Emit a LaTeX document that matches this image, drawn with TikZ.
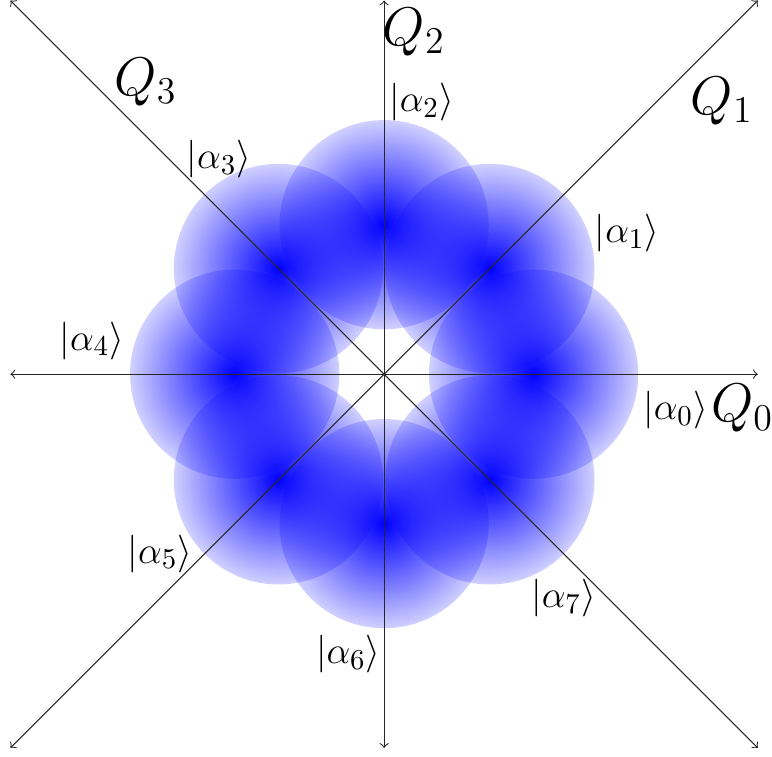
\documentclass[tikz,border=0pt]{standalone}
\usepackage{amsmath}
\usetikzlibrary{fadings}
\tikzfading[name=halo, inner color=transparent!0, outer color=transparent!82]

\begin{document}
\begin{tikzpicture}[
  eje/.style={<->, black!85},
  estado/.style={font=\fontsize{15}{18}\selectfont, inner sep=1pt},
  cuad/.style={font=\fontsize{19.5}{23}\selectfont, inner sep=1pt},
  disco/.style={fill=blue, path fading=halo}
]
\useasboundingbox (-5.14,-5.11) rectangle (5.19,5.007);
% centros de los estados coherentes
\foreach \k in {0,...,7}
  \coordinate (c\k) at (45*\k:2);
\foreach \k in {0,...,7}
  \fill[disco] (c\k) circle (1.4);

% ejes
\coordinate (o) at (0,0);
\draw[eje] (-5,0) -- (5,0);
\draw[eje] (0,-5) -- (0,5);
\draw[eje] (-5,-5) -- (5,5);
\draw[eje] (-5,5) -- (5,-5);

\node[cuad] (q0) at (4.79,-0.46) {$Q_0$};
\node[cuad] (q1) at (4.52,3.65) {$Q_1$};
\node[cuad] (q2) at (0.40,4.58) {$Q_2$};
\node[cuad] (q3) at (-3.19,3.91) {$Q_3$};

\node[estado] (a0) at (3.90,-0.48) {$|\alpha_0\rangle$};
\node[estado] (a1) at (3.25,1.89) {$|\alpha_1\rangle$};
\node[estado] (a2) at (0.50,3.64) {$|\alpha_2\rangle$};
\node[estado] (a3) at (-2.21,2.88) {$|\alpha_3\rangle$};
\node[estado] (a4) at (-3.91,0.45) {$|\alpha_4\rangle$};
\node[estado] (a5) at (-3.00,-2.40) {$|\alpha_5\rangle$};
\node[estado] (a6) at (-0.48,-3.75) {$|\alpha_6\rangle$};
\node[estado] (a7) at (2.40,-3.00) {$|\alpha_7\rangle$};
\end{tikzpicture}
\end{document}
